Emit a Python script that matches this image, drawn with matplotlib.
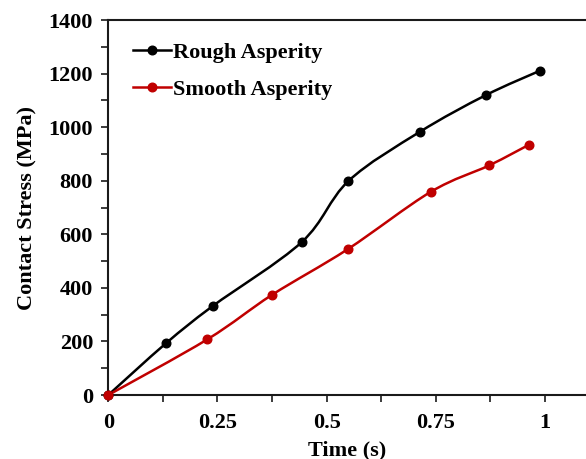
import numpy as np
import matplotlib
matplotlib.use("Agg")
import matplotlib.pyplot as plt
from matplotlib.path import Path
from matplotlib.patches import PathPatch
from matplotlib.lines import Line2D
from matplotlib.ticker import MultipleLocator

# Contact stress over time for the two asperity types
rough_time = [0.0, 0.132, 0.239, 0.443, 0.550, 0.713, 0.864, 0.989]
rough_stress = [0, 193, 332, 571, 799, 982, 1119, 1211]
smooth_time = [0.0, 0.227, 0.375, 0.548, 0.739, 0.872, 0.963]
smooth_stress = [0, 208, 374, 544, 759, 857, 934]

x_ticks = [0, 0.25, 0.5, 0.75, 1]
x_tick_labels = ["0", "0.25", "0.5", "0.75", "1"]
y_ticks = [0, 200, 400, 600, 800, 1000, 1200, 1400]

plt.rcParams["font.family"] = ["Liberation Serif", "DejaVu Serif"]
plt.rcParams["font.weight"] = "bold"

BLACK = "#000000"
RED = "#C00000"
LW = 1.8
MS = 6.2


def smooth_path(xs, ys):
    """Bezier path through the points (Catmull-Rom style tangents)."""
    pts = np.column_stack([xs, ys]).astype(float)
    n = len(pts)
    verts = [pts[0]]
    codes = [Path.MOVETO]
    for i in range(n - 1):
        p0 = pts[i - 1] if i > 0 else pts[i]
        p1 = pts[i]
        p2 = pts[i + 1]
        p3 = pts[i + 2] if i + 2 < n else pts[i + 1]
        c1 = p1 + (p2 - p0) / 6.0
        c2 = p2 - (p3 - p1) / 6.0
        verts += [c1, c2, p2]
        codes += [Path.CURVE4] * 3
    return Path(verts, codes)


fig = plt.figure(figsize=(5.86, 4.59), dpi=100)
ax = fig.add_axes([0.1848, 0.1394, 0.8152, 0.8170])

for xs, ys, col in [(rough_time, rough_stress, BLACK),
                    (smooth_time, smooth_stress, RED)]:
    ax.add_patch(PathPatch(smooth_path(xs, ys), facecolor="none",
                           edgecolor=col, lw=LW, zorder=3))
    ax.plot(xs, ys, linestyle="none", marker="o", ms=MS, color=col,
            zorder=4, clip_on=False)

ax.set_xlim(0, 1.094)
ax.set_ylim(0, 1400)
ax.set_xticks(x_ticks)
ax.set_xticklabels(x_tick_labels)
ax.xaxis.set_minor_locator(MultipleLocator(0.125))
ax.set_yticks(y_ticks)
ax.yaxis.set_minor_locator(MultipleLocator(100))

ax.spines["right"].set_visible(False)
for s in ["left", "bottom", "top"]:
    ax.spines[s].set_linewidth(1.5)
    ax.spines[s].set_color("#1a1a1a")

ax.tick_params(axis="both", which="both", direction="out", width=1.2,
               color="#1a1a1a", labelsize=16, length=5)
ax.tick_params(axis="x", pad=8)
ax.tick_params(axis="y", pad=6)
for lbl in ax.get_xticklabels() + ax.get_yticklabels():
    lbl.set_fontweight("bold")

ax.set_xlabel("Time (s)", fontsize=16, fontweight="bold", labelpad=5)
ax.set_ylabel("Contact Stress (MPa)", fontsize=16, fontweight="bold", labelpad=8)

handles = [Line2D([], [], color=BLACK, lw=LW, marker="o", ms=MS),
           Line2D([], [], color=RED, lw=LW, marker="o", ms=MS)]
ax.legend(handles, ["Rough Asperity", "Smooth Asperity"], loc="upper left",
          bbox_to_anchor=(0.024, 0.975), frameon=False,
          prop={"weight": "bold", "size": 16}, handlelength=1.7,
          handletextpad=0.1, labelspacing=0.72, borderaxespad=0.2)

fig.savefig("out.png", dpi=100)
